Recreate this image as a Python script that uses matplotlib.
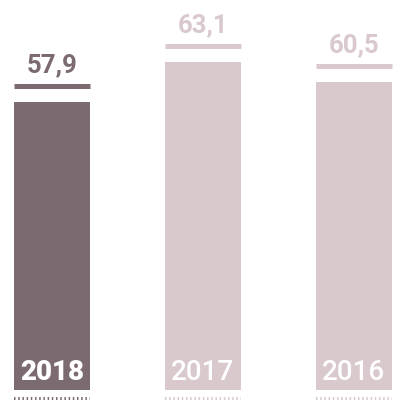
import matplotlib
matplotlib.use("Agg")
import matplotlib.pyplot as plt
from matplotlib.transforms import offset_copy

years = ["2018", "2017", "2016"]
values = [57.9, 63.1, 60.5]
labels = ["57,9", "63,1", "60,5"]
highlight = [True, False, False]

DARK = "#7c6a71"
LIGHT = "#d9c9cd"
BASE = 20.5

plt.rcParams['lines.scale_dashes'] = False
fig = plt.figure(figsize=(3.95, 4.0), dpi=100)
ax = fig.add_axes([0, 0, 1, 1])
ax.set_xlim(-0.344, 2.272)
ax.set_ylim(19.2, 71.2)
ax.axis("off")

px = 0.72  # points per pixel
w = 0.503
for i, (yr, v, lab, hl) in enumerate(zip(years, values, labels, highlight)):
    c = DARK if hl else LIGHT
    ax.bar(i, v - BASE, bottom=BASE, width=w, color=c, linewidth=0)
    # cap line above bar
    t_cap = offset_copy(ax.transData, fig=fig, x=0, y=16.5 * px, units='points')
    ax.plot([i - w / 2, i + w / 2], [v, v], color=c, lw=5 * px,
            solid_capstyle='butt', transform=t_cap)
    t_lab = offset_copy(ax.transData, fig=fig, x=0, y=30 * px, units='points')
    ax.text(i, v, lab, transform=t_lab, ha='center', va='baseline',
            fontsize=18.5, fontweight='bold', color=c, family='Roboto')
    t_yr = offset_copy(ax.transData, fig=fig, x=0, y=10 * px, units='points')
    ax.text(i, BASE, yr, transform=t_yr, ha='center', va='baseline',
            fontsize=20, fontweight=900 if hl else 'medium',
            color='white', family='Roboto')
    # dotted ticks under bar
    t_dot = offset_copy(ax.transData, fig=fig, x=0, y=-9 * px, units='points')
    ax.plot([i - w / 2, i + w / 2], [BASE, BASE], color=c, lw=4 * px,
            linestyle=(0, (1.5 * px, 2.7 * px)), solid_capstyle='butt',
            dash_capstyle='butt', transform=t_dot)

fig.savefig("out.png", dpi=100)
